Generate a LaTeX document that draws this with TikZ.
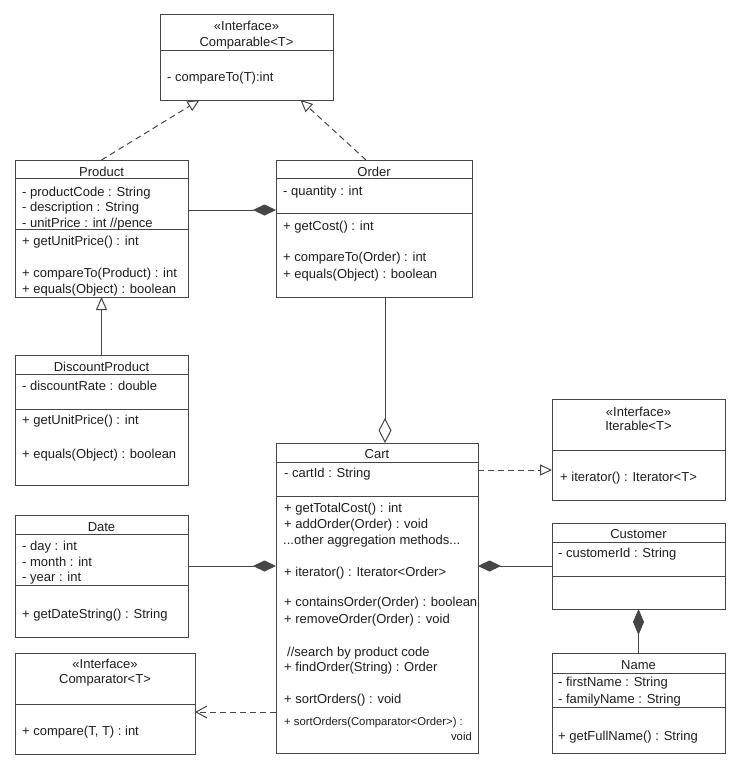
\documentclass[tikz,border=0pt]{standalone}
\usepackage{fontspec}
\setmainfont{Liberation Sans}
\usetikzlibrary{arrows.meta}
\definecolor{lc}{RGB}{70,70,70}
\definecolor{tc}{RGB}{30,30,30}
\begin{document}
\begin{tikzpicture}[x=1pt,y=-1pt,
  cls/.style={draw=lc, line width=1pt, inner sep=0pt, outer sep=0pt, anchor=north west, fill=white},
  txt/.style={anchor=base west, inner sep=0pt, text=tc, font=\fontsize{13}{16}\selectfont},
  stxt/.style={txt, font=\fontsize{11.3}{14}\selectfont},
  ttl/.style={anchor=base, inner sep=0pt, text=tc, font=\fontsize{13}{16}\selectfont},
  ln/.style={draw=lc, line width=1pt},
  dsh/.style={ln, dash pattern=on 6pt off 4pt},
  realiz/.style={dsh, -{Triangle[open, length=12pt, width=11pt]}},
  inherit/.style={ln, -{Triangle[open, length=13pt, width=11pt]}},
  compo/.style={ln, -{Diamond[length=23pt, width=11pt]}},
  aggr/.style={ln, -{Diamond[open, length=25pt, width=13pt]}},
  depend/.style={dsh, -{Straight Barb[length=11pt, width=12pt]}},
]
\useasboundingbox[fill=white] (0,0) rectangle (740,769);

% ---------- class boxes ----------
\node[cls, minimum width=173pt, minimum height=86pt]  (comparable) at (160,14) {};
\node[cls, minimum width=173pt, minimum height=137pt] (product)    at (15,160) {};
\node[cls, minimum width=196pt, minimum height=137pt] (order)      at (276,160) {};
\node[cls, minimum width=173pt, minimum height=130pt] (discount)   at (15,355) {};
\node[cls, minimum width=202pt, minimum height=310pt] (cart)       at (276,443) {};
\node[cls, minimum width=173pt, minimum height=101pt] (iterable)   at (552,399) {};
\node[cls, minimum width=173pt, minimum height=86pt]  (customer)   at (552,523) {};
\node[cls, minimum width=173pt, minimum height=100pt] (name)       at (552,653) {};
\node[cls, minimum width=173pt, minimum height=122pt] (date)       at (15,515) {};
\node[cls, minimum width=180pt, minimum height=101pt] (comparator) at (15,653) {};

% ---------- compartment dividers ----------
\draw[ln] (160,50) -- (333,50);
\draw[ln] (15,178) -- (188,178);  \draw[ln] (15,229) -- (188,229);
\draw[ln] (276,178) -- (472,178); \draw[ln] (276,213) -- (472,213);
\draw[ln] (15,374) -- (188,374);  \draw[ln] (15,409) -- (188,409);
\draw[ln] (276,462) -- (478,462); \draw[ln] (276,496) -- (478,496);
\draw[ln] (552,450) -- (725,450);
\draw[ln] (552,542) -- (725,542); \draw[ln] (552,576) -- (725,576);
\draw[ln] (552,673) -- (725,673); \draw[ln] (552,707) -- (725,707);
\draw[ln] (15,534) -- (188,534);  \draw[ln] (15,585) -- (188,585);
\draw[ln] (15,704) -- (195,704);

% ---------- Comparable ----------
\node[ttl] (cmpS) at (246.5,30) {«Interface»};
\node[ttl] (cmpT) at (246.5,46.7) {Comparable<T>};
\node[txt] (cmp1) at (167,81.7) {- compareTo(T):int};

% ---------- Product ----------
\node[ttl] (prT) at (101.5,176) {Product};
\node[txt] (pr1) at (22,196) {- productCode : String};
\node[txt] (pr2) at (22,211.5) {- description : String};
\node[txt] (pr3) at (22,227) {- unitPrice : int //pence};
\node[txt] (pr4) at (22,245) {+ getUnitPrice() : int};
\node[txt] (pr5) at (22,277.5) {+ compareTo(Product) : int};
\node[txt] (pr6) at (22,293) {+ equals(Object) : boolean};

% ---------- Order ----------
\node[ttl] (orT) at (374,176) {Order};
\node[txt] (or1) at (283,195.7) {- quantity : int};
\node[txt] (or2) at (283,230) {+ getCost() : int};
\node[txt] (or3) at (283,261.7) {+ compareTo(Order) : int};
\node[txt] (or4) at (283,278) {+ equals(Object) : boolean};

% ---------- DiscountProduct ----------
\node[ttl] (dpT) at (101.5,371.7) {DiscountProduct};
\node[txt] (dp1) at (22,390) {- discountRate : double};
\node[txt] (dp2) at (22,424.3) {+ getUnitPrice() : int};
\node[txt] (dp3) at (22,458.3) {+ equals(Object) : boolean};

% ---------- Cart ----------
\node[ttl] (caT) at (377,458.3) {Cart};
\node[txt] (ca1) at (284,477.7) {- cartId : String};
\node[txt] (ca2) at (284,512.7) {+ getTotalCost() : int};
\node[txt] (ca3) at (284,528.3) {+ addOrder(Order) : void};
\node[txt] (ca4) at (283,544.3) {...other aggregation methods...};
\node[txt] (ca5) at (284,576.7) {+ iterator() : Iterator<Order>};
\node[txt] (ca6) at (284,606.7) {+ containsOrder(Order) : boolean};
\node[txt] (ca7) at (284,623.3) {+ removeOrder(Order) : void};
\node[txt] (ca8) at (287,656) {//search by product code};
\node[txt] (ca9) at (284,671.7) {+ findOrder(String) : Order};
\node[txt] (ca10) at (284,703.3) {+ sortOrders() : void};
\node[stxt] (ca11) at (284,725) {+ sortOrders(Comparator<Order>) :};
\node[stxt, anchor=base east] (ca12) at (472,740) {void};

% ---------- Iterable ----------
\node[ttl] (itS) at (638.5,416) {«Interface»};
\node[ttl] (itT) at (638.5,430.7) {Iterable<T>};
\node[txt] (it1) at (560,481.7) {+ iterator() : Iterator<T>};

% ---------- Customer ----------
\node[ttl] (cuT) at (638.5,538.3) {Customer};
\node[txt] (cu1) at (558,557.7) {- customerId : String};

% ---------- Name ----------
\node[ttl] (naT) at (638.5,669.3) {Name};
\node[txt] (na1) at (558,686.7) {- firstName : String};
\node[txt] (na2) at (558,703.3) {- familyName : String};
\node[txt] (na3) at (558,740) {+ getFullName() : String};

% ---------- Date ----------
\node[ttl] (daT) at (101.5,531.7) {Date};
\node[txt] (da1) at (22,550) {- day : int};
\node[txt] (da2) at (22,566) {- month : int};
\node[txt] (da3) at (22,581.7) {- year : int};
\node[txt] (da4) at (22,618.3) {+ getDateString() : String};

% ---------- Comparator ----------
\node[ttl] (coS) at (105,668.3) {«Interface»};
\node[ttl] (coT) at (105,683.3) {Comparator<T>};
\node[txt] (co1) at (22,735) {+ compare(T, T) : int};

% ---------- connectors ----------
\draw[realiz] (product.north) -- ([xshift=-47pt]comparable.south);
\draw[realiz] ([xshift=-8pt]order.north) -- ([xshift=54pt]comparable.south);
\draw[inherit] (discount.north) -- (product.south);
\draw[compo] ([yshift=18.5pt]product.east) -- ([yshift=18.5pt]order.west);
\draw[aggr] ([xshift=11pt]order.south) -- ([xshift=8pt]cart.north);
\draw[realiz] ([yshift=128pt]cart.east) -- ([yshift=-20.5pt]iterable.west);
\draw[compo] ([yshift=10pt]date.east) -- ([yshift=32pt]cart.west);
\draw[compo] (customer.west) -- ([yshift=32pt]cart.east);
\draw[ln, -{Diamond[length=26pt, width=11pt]}] (name.north) -- (customer.south);
\draw[depend] ([yshift=-114pt]cart.west) -- ([yshift=-8.5pt]comparator.east);
\end{tikzpicture}
\end{document}
